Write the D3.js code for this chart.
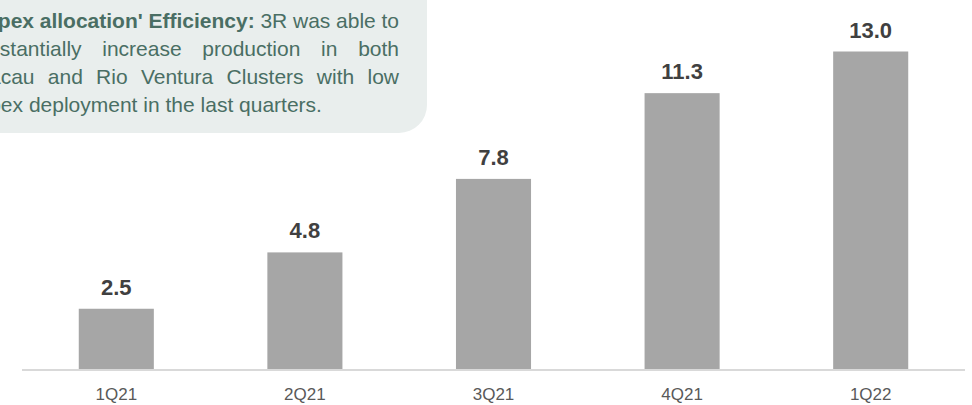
<!DOCTYPE html>
<html>
<head>
<meta charset="utf-8">
<script src="https://cdn.jsdelivr.net/npm/d3@7"></script>
<style>
  html, body { margin: 0; padding: 0; background: #ffffff; }
  svg { display: block; font-family: "Liberation Sans", Arial, Helvetica, sans-serif; }
</style>
</head>
<body>
<svg id="chart" width="972" height="405"></svg>
<script>
// Quarterly production values
const categories = ["1Q21", "2Q21", "3Q21", "4Q21", "1Q22"];
const values = [2.5, 4.8, 7.8, 11.3, 13.0];

// Call-out note
const noteBold = "'Capex allocation' Efficiency:";
const noteLines = [
  [{t: noteBold, b: true}, {t: "3R was able to", b: false}],
  [{t: "substantially increase production in both", b: false}],
  [{t: "Macau and Rio Ventura Clusters with low", b: false}],
  [{t: "capex deployment in the last quarters.", b: false}]
];

const W = 972, H = 405;
const baseY = 370;
const svg = d3.select("#chart");

const x = d3.scaleBand()
  .domain(categories)
  .range([22, 965])
  .paddingInner(0.602)
  .paddingOuter(0.301);

const y = d3.scaleLinear()
  .domain([0, 13.0])
  .range([baseY, baseY - 13.0 * 24.5]);

// Note box, partly running off the top-left edge
const note = svg.append("g");
note.append("rect")
  .attr("x", -60).attr("y", -60)
  .attr("width", 427 + 60).attr("height", 133 + 60)
  .attr("rx", 28).attr("ry", 28)
  .attr("fill", "#e9eeed");

const lineLeft = [-34, -34, -28.5, -33];
const textRight = 399;
const lineBase = [27.5, 55.5, 83.5, 111.5];
const noteColor = "#4a6e64";
const noteSize = 21;

noteLines.forEach((segs, i) => {
  // split into words, keeping the bold flag of each segment
  const words = [];
  segs.forEach(s => s.t.split(" ").forEach(w => words.push({t: w, b: s.b})));
  const g = note.append("g");
  const nodes = words.map(w => g.append("text")
    .attr("y", lineBase[i])
    .attr("font-size", noteSize)
    .attr("font-weight", w.b ? "bold" : "normal")
    .attr("fill", noteColor)
    .text(w.t));
  const widths = nodes.map(n => n.node().getComputedTextLength());
  const total = d3.sum(widths);
  const last = i === noteLines.length - 1;
  // justified lines, last line set with normal word spacing
  const gap = last ? noteSize * 0.278 : (textRight - lineLeft[i] - total) / (words.length - 1);
  let cx = lineLeft[i];
  nodes.forEach((n, k) => { n.attr("x", cx); cx += widths[k] + gap; });
});

// Bars
svg.append("g").selectAll("rect")
  .data(values)
  .join("rect")
  .attr("x", (d, i) => x(categories[i]))
  .attr("width", x.bandwidth())
  .attr("y", d => y(d))
  .attr("height", d => baseY - y(d))
  .attr("fill", "#a6a6a6");

// Value labels
svg.append("g").selectAll("text")
  .data(values)
  .join("text")
  .attr("x", (d, i) => x(categories[i]) + x.bandwidth() / 2)
  .attr("y", d => y(d) - 14)
  .attr("text-anchor", "middle")
  .attr("font-size", 22)
  .attr("font-weight", "bold")
  .attr("fill", "#404040")
  .text(d => d.toFixed(1));

// Category axis
const axis = svg.append("g")
  .attr("transform", `translate(0,${baseY})`)
  .call(d3.axisBottom(x).tickSize(0).tickPadding(0));
axis.select(".domain")
  .attr("d", "M22,0H965")
  .attr("stroke", "#d9d9d9")
  .attr("stroke-width", 2);
axis.selectAll(".tick text")
  .attr("y", 30)
  .attr("dy", null)
  .attr("font-size", 17)
  .attr("font-family", "Liberation Sans, Arial, sans-serif")
  .attr("fill", "#595959");
</script>
</body>
</html>
